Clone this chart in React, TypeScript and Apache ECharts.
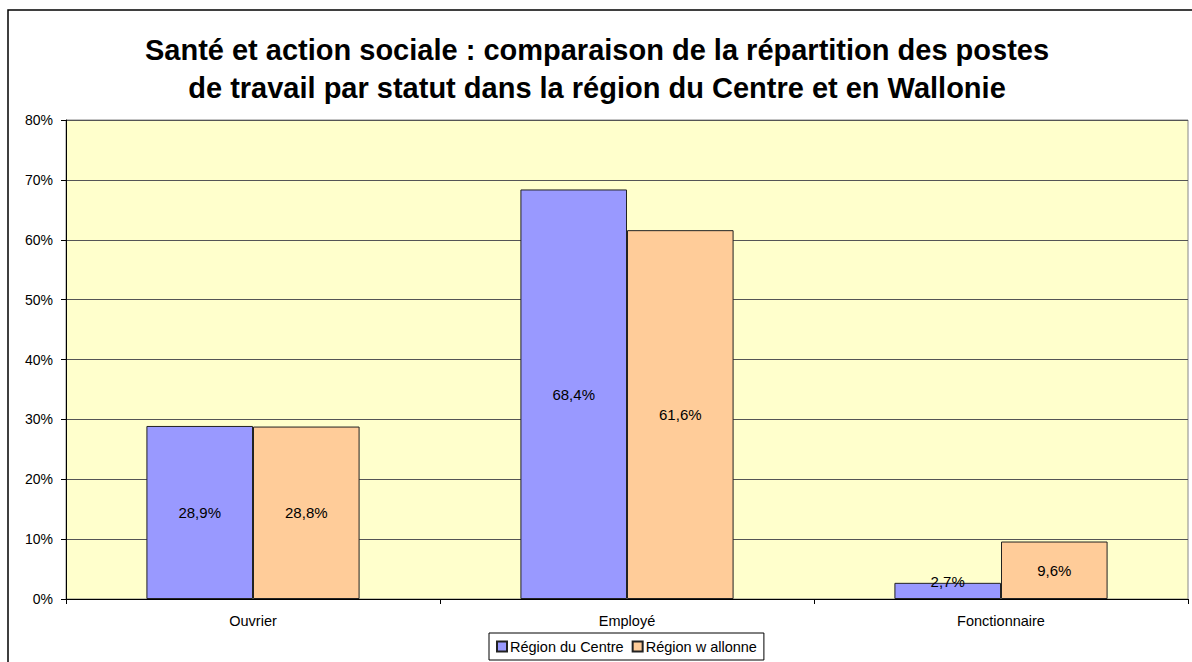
import React, { useEffect, useRef } from "react";
import * as echarts from "echarts";

const categories = ["Ouvrier", "Employé", "Fonctionnaire"];
const centre = [28.9, 68.4, 2.7];
const wallonie = [28.8, 61.6, 9.6];
const seriesNames = ["Région du Centre", "Région w allonne"];
const titleText =
  "Santé et action sociale : comparaison de la répartition des postes\nde travail par statut dans la région du Centre et en Wallonie";

const FONT = "'Liberation Sans', Arial, sans-serif";

export default function App() {
  const ref = useRef<HTMLDivElement>(null);
  useEffect(() => {
    if (!ref.current) return;
    const chart = echarts.init(ref.current, undefined, { renderer: "svg" });
    const fmt = (p: any) => p.value.toFixed(1).replace(".", ",") + "%";
    const labelStyle = {
      show: true,
      position: "inside",
      formatter: fmt,
      fontFamily: FONT,
      fontSize: 15,
      color: "#000",
    };
    // small bars: Excel pushes the centred label up onto the bar's top edge
    const withLabels = (arr: number[]) =>
      arr.map((v) => (v < 5 ? { value: v, label: { offset: [0, -9] } } : v));
    chart.setOption({
      animation: false,
      textStyle: { fontFamily: FONT },
      graphic: [
        {
          type: "rect",
          shape: { x: 8, y: 10, width: 1200, height: 700 },
          style: { fill: "none", stroke: "#000", lineWidth: 1.5 },
          silent: true,
          z: -10,
        },
      ],
      title: {
        text: titleText,
        left: 597,
        textAlign: "center",
        top: 31,
        padding: 0,
        textStyle: {
          fontFamily: FONT,
          fontSize: 29,
          fontWeight: "bold",
          lineHeight: 38,
          color: "#000",
        },
      },
      legend: {
        data: seriesNames,
        left: 489,
        top: 633,
        padding: [6, 7],
        itemWidth: 10,
        itemHeight: 10,
        itemGap: 8,
        borderColor: "#000",
        borderWidth: 1,
        borderRadius: 0,
        icon: "rect",
        textStyle: { fontFamily: FONT, fontSize: 14.5, color: "#000", padding: [0, 0, 0, -2] },
      },
      grid: {
        left: 66,
        top: 120,
        right: 4,
        bottom: 63,
        show: true,
        backgroundColor: "#FFFFCC",
        borderColor: "#888",
        borderWidth: 1,
      },
      xAxis: {
        type: "category",
        data: categories,
        axisLine: { lineStyle: { color: "#000", width: 1 } },
        axisTick: { show: true, length: 5, lineStyle: { color: "#000" } },
        axisLabel: { fontFamily: FONT, fontSize: 14.5, color: "#000", margin: 14 },
      },
      yAxis: {
        type: "value",
        min: 0,
        max: 80,
        interval: 10,
        axisLine: { show: true, lineStyle: { color: "#000", width: 1 } },
        axisTick: { show: true, length: 5, lineStyle: { color: "#000" } },
        axisLabel: {
          fontFamily: FONT,
          fontSize: 14,
          color: "#000",
          margin: 13,
          formatter: "{value}%",
        },
        splitLine: { show: true, lineStyle: { color: "#555", width: 1 } },
      },
      series: [
        {
          name: seriesNames[0],
          type: "bar",
          data: withLabels(centre),
          barGap: "0%",
          barCategoryGap: "43%",
          itemStyle: { color: "#9999FF", borderColor: "#222", borderWidth: 1 },
          label: labelStyle,
        },
        {
          name: seriesNames[1],
          type: "bar",
          data: withLabels(wallonie),
          itemStyle: { color: "#FFCC99", borderColor: "#222", borderWidth: 1 },
          label: labelStyle,
        },
      ],
    });
    return () => chart.dispose();
  }, []);
  return (
    <div
      ref={ref}
      style={{ position: "absolute", left: 0, top: 0, width: 1192, height: 662, background: "#fff" }}
    />
  );
}
